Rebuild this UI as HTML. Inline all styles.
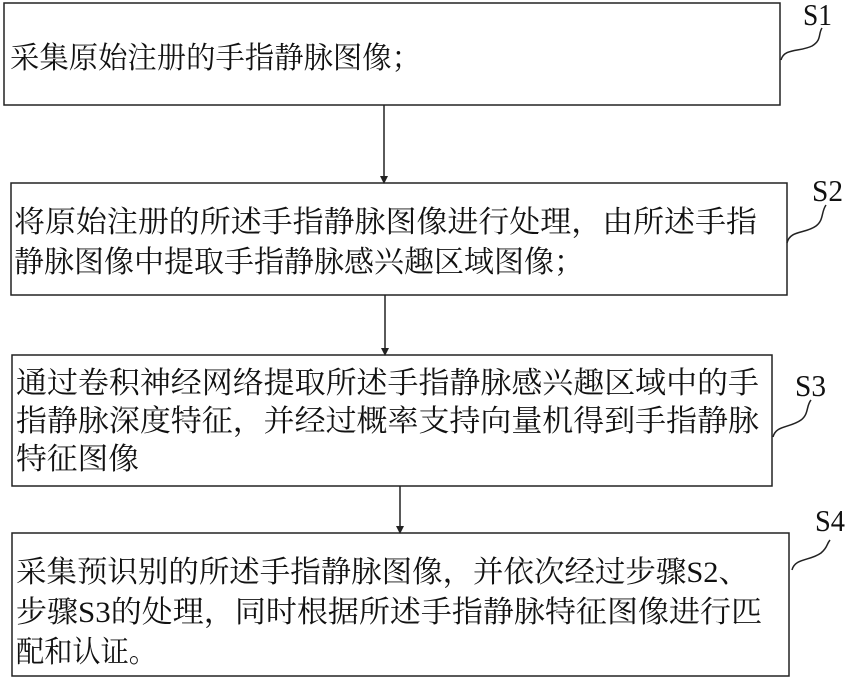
<!DOCTYPE html>
<html><head><meta charset="utf-8"><style>html,body{margin:0;padding:0;background:#fff}svg{display:block}</style></head><body>
<svg width="846" height="680" xmlns="http://www.w3.org/2000/svg" font-family="'Liberation Serif','Noto Serif CJK SC','Noto Sans CJK SC',serif">
<g fill="none" stroke="#222" stroke-width="1.5">
<rect x="4" y="3" width="776" height="102"/>
<rect x="11" y="183" width="776" height="112"/>
<rect x="12" y="355" width="760" height="131"/>
<rect x="12" y="533" width="777" height="143"/>
<line x1="384" y1="105" x2="384" y2="176"/>
<line x1="385" y1="295" x2="385" y2="348"/>
<line x1="400" y1="486" x2="400" y2="526"/>
<path d="M781 60 C784 48,800 52,812 46 C822 40,818 34,822 28"/>
<path d="M787 243 C790 230,805 234,816 226 C824 220,821 212,826 205"/>
<path d="M773 437 C776 425,790 428,801 420 C809 414,806 406,811 400"/>
<path d="M792 570 C795 558,810 561,821 553 C828 547,826 545,830 540"/>
</g>
<g fill="#222">
<path d="M380 176 L388 176 L384 184 Z"/>
<path d="M381 348 L389 348 L385 356 Z"/>
<path d="M396 526 L404 526 L400 534 Z"/>
</g>
<g font-size="31" fill="#111">
<text x="803" y="25" textLength="29" lengthAdjust="spacingAndGlyphs">S1</text>
<text x="812" y="201" textLength="31" lengthAdjust="spacingAndGlyphs">S2</text>
<text x="795" y="396" textLength="31" lengthAdjust="spacingAndGlyphs">S3</text>
<text x="815" y="531" textLength="30" lengthAdjust="spacingAndGlyphs">S4</text>
</g>
<g font-size="30" fill="#111" font-family="'Liberation Serif','Noto Serif CJK SC',serif">
<text x="10" y="68" textLength="411" lengthAdjust="spacingAndGlyphs">采集原始注册的手指静脉图像；</text>
<text x="14" y="232" textLength="743" lengthAdjust="spacingAndGlyphs">将原始注册的所述手指静脉图像进行处理，由所述手指</text>
<text x="14" y="272" textLength="570" lengthAdjust="spacingAndGlyphs">静脉图像中提取手指静脉感兴趣区域图像；</text>
<text x="16" y="393" textLength="743" lengthAdjust="spacingAndGlyphs">通过卷积神经网络提取所述手指静脉感兴趣区域中的手</text>
<text x="16" y="431" textLength="743" lengthAdjust="spacingAndGlyphs">指静脉深度特征，并经过概率支持向量机得到手指静脉</text>
<text x="16" y="469" textLength="123" lengthAdjust="spacingAndGlyphs">特征图像</text>
<text x="16" y="582" textLength="733" lengthAdjust="spacingAndGlyphs">采集预识别的所述手指静脉图像，并依次经过步骤S2、</text>
<text x="16" y="622" textLength="746" lengthAdjust="spacingAndGlyphs">步骤S3的处理，同时根据所述手指静脉特征图像进行匹</text>
<text x="16" y="662" textLength="141" lengthAdjust="spacingAndGlyphs">配和认证。</text>
</g>
</svg>
</body></html>
